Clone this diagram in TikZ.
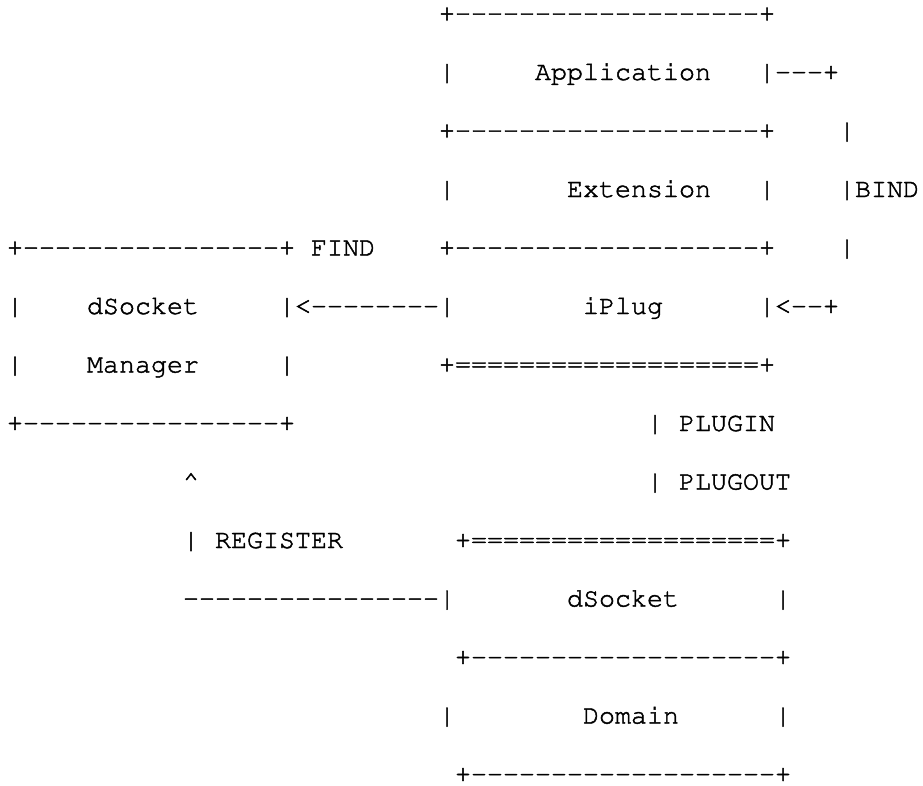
\documentclass[tikz,border=0pt]{standalone}
\usepackage[T1]{fontenc}
\usepackage{courier}

\tikzset{
  ascii/.style={anchor=base west, inner sep=0pt, outer sep=0pt,
    font=\fontsize{26.67}{30}\selectfont\ttfamily\special{pdf:literal direct 2 Tr 0.45 w}}
}
% runs of dashes and equal signs, one glyph at a time (no ligatures)
\newcommand{\hyph}[1]{\foreach\k in {1,...,#1}{-}}
\newcommand{\eqs}[1]{\foreach\k in {1,...,#1}{=}}

\begin{document}
\begin{tikzpicture}[x=16pt, y=-58.5pt]
	\useasboundingbox (-0.4375,-0.3675) rectangle (57.25,13.0513);

	% Application / Extension / iPlug stack
	\node[ascii] (apptop) at (27,0) {+\hyph{19}+};
	\node[ascii] (appl) at (27,1) {|};
	\node[ascii] (app) at (33,1) {Application};
	\node[ascii] (appr) at (47,1) {|\hyph{3}+};
	\node[ascii] (appbot) at (27,2) {+\hyph{19}+};
	\node[ascii] (bindup) at (52,2) {|};
	\node[ascii] (extl) at (27,3) {|};
	\node[ascii] (ext) at (35,3) {Extension};
	\node[ascii] (extr) at (47,3) {|};
	\node[ascii] (bind) at (52,3) {|BIND};
	\node[ascii] (extbot) at (27,4) {+\hyph{19}+};
	\node[ascii] (binddown) at (52,4) {|};
	\node[ascii] (plugl) at (17,5) {|<\hyph{8}|};
	\node[ascii] (plug) at (36,5) {iPlug};
	\node[ascii] (plugr) at (47,5) {|<\hyph{2}+};
	\node[ascii] (plugbot) at (27,6) {+\eqs{19}+};

	% dSocket Manager box
	\node[ascii] (mgrtop) at (0,4) {+\hyph{16}+};
	\node[ascii] (find) at (19,4) {FIND};
	\node[ascii] (mgrl) at (0,5) {|};
	\node[ascii] (mgr) at (5,5) {dSocket};
	\node[ascii] (mgrl2) at (0,6) {|};
	\node[ascii] (mgr2) at (5,6) {Manager};
	\node[ascii] (mgrr2) at (17,6) {|};
	\node[ascii] (mgrbot) at (0,7) {+\hyph{16}+};

	% PLUGIN / PLUGOUT and REGISTER
	\node[ascii] (plugin) at (40,7) {| PLUGIN};
	\node[ascii] (plugout) at (40,8) {| PLUGOUT};
	\node[ascii] (regtip) at (11,8) {\textasciicircum};
	\node[ascii] (reg) at (11,9) {| REGISTER};
	\node[ascii] (regline) at (11,10) {\hyph{16}|};

	% dSocket / Domain stack
	\node[ascii] (socktop) at (28,9) {+\eqs{19}+};
	\node[ascii] (sock) at (35,10) {dSocket};
	\node[ascii] (sockr) at (48,10) {|};
	\node[ascii] (sockbot) at (28,11) {+\hyph{19}+};
	\node[ascii] (doml) at (27,12) {|};
	\node[ascii] (dom) at (36,12) {Domain};
	\node[ascii] (domr) at (48,12) {|};
	\node[ascii] (dombot) at (28,13) {+\hyph{19}+};
\end{tikzpicture}
\end{document}
